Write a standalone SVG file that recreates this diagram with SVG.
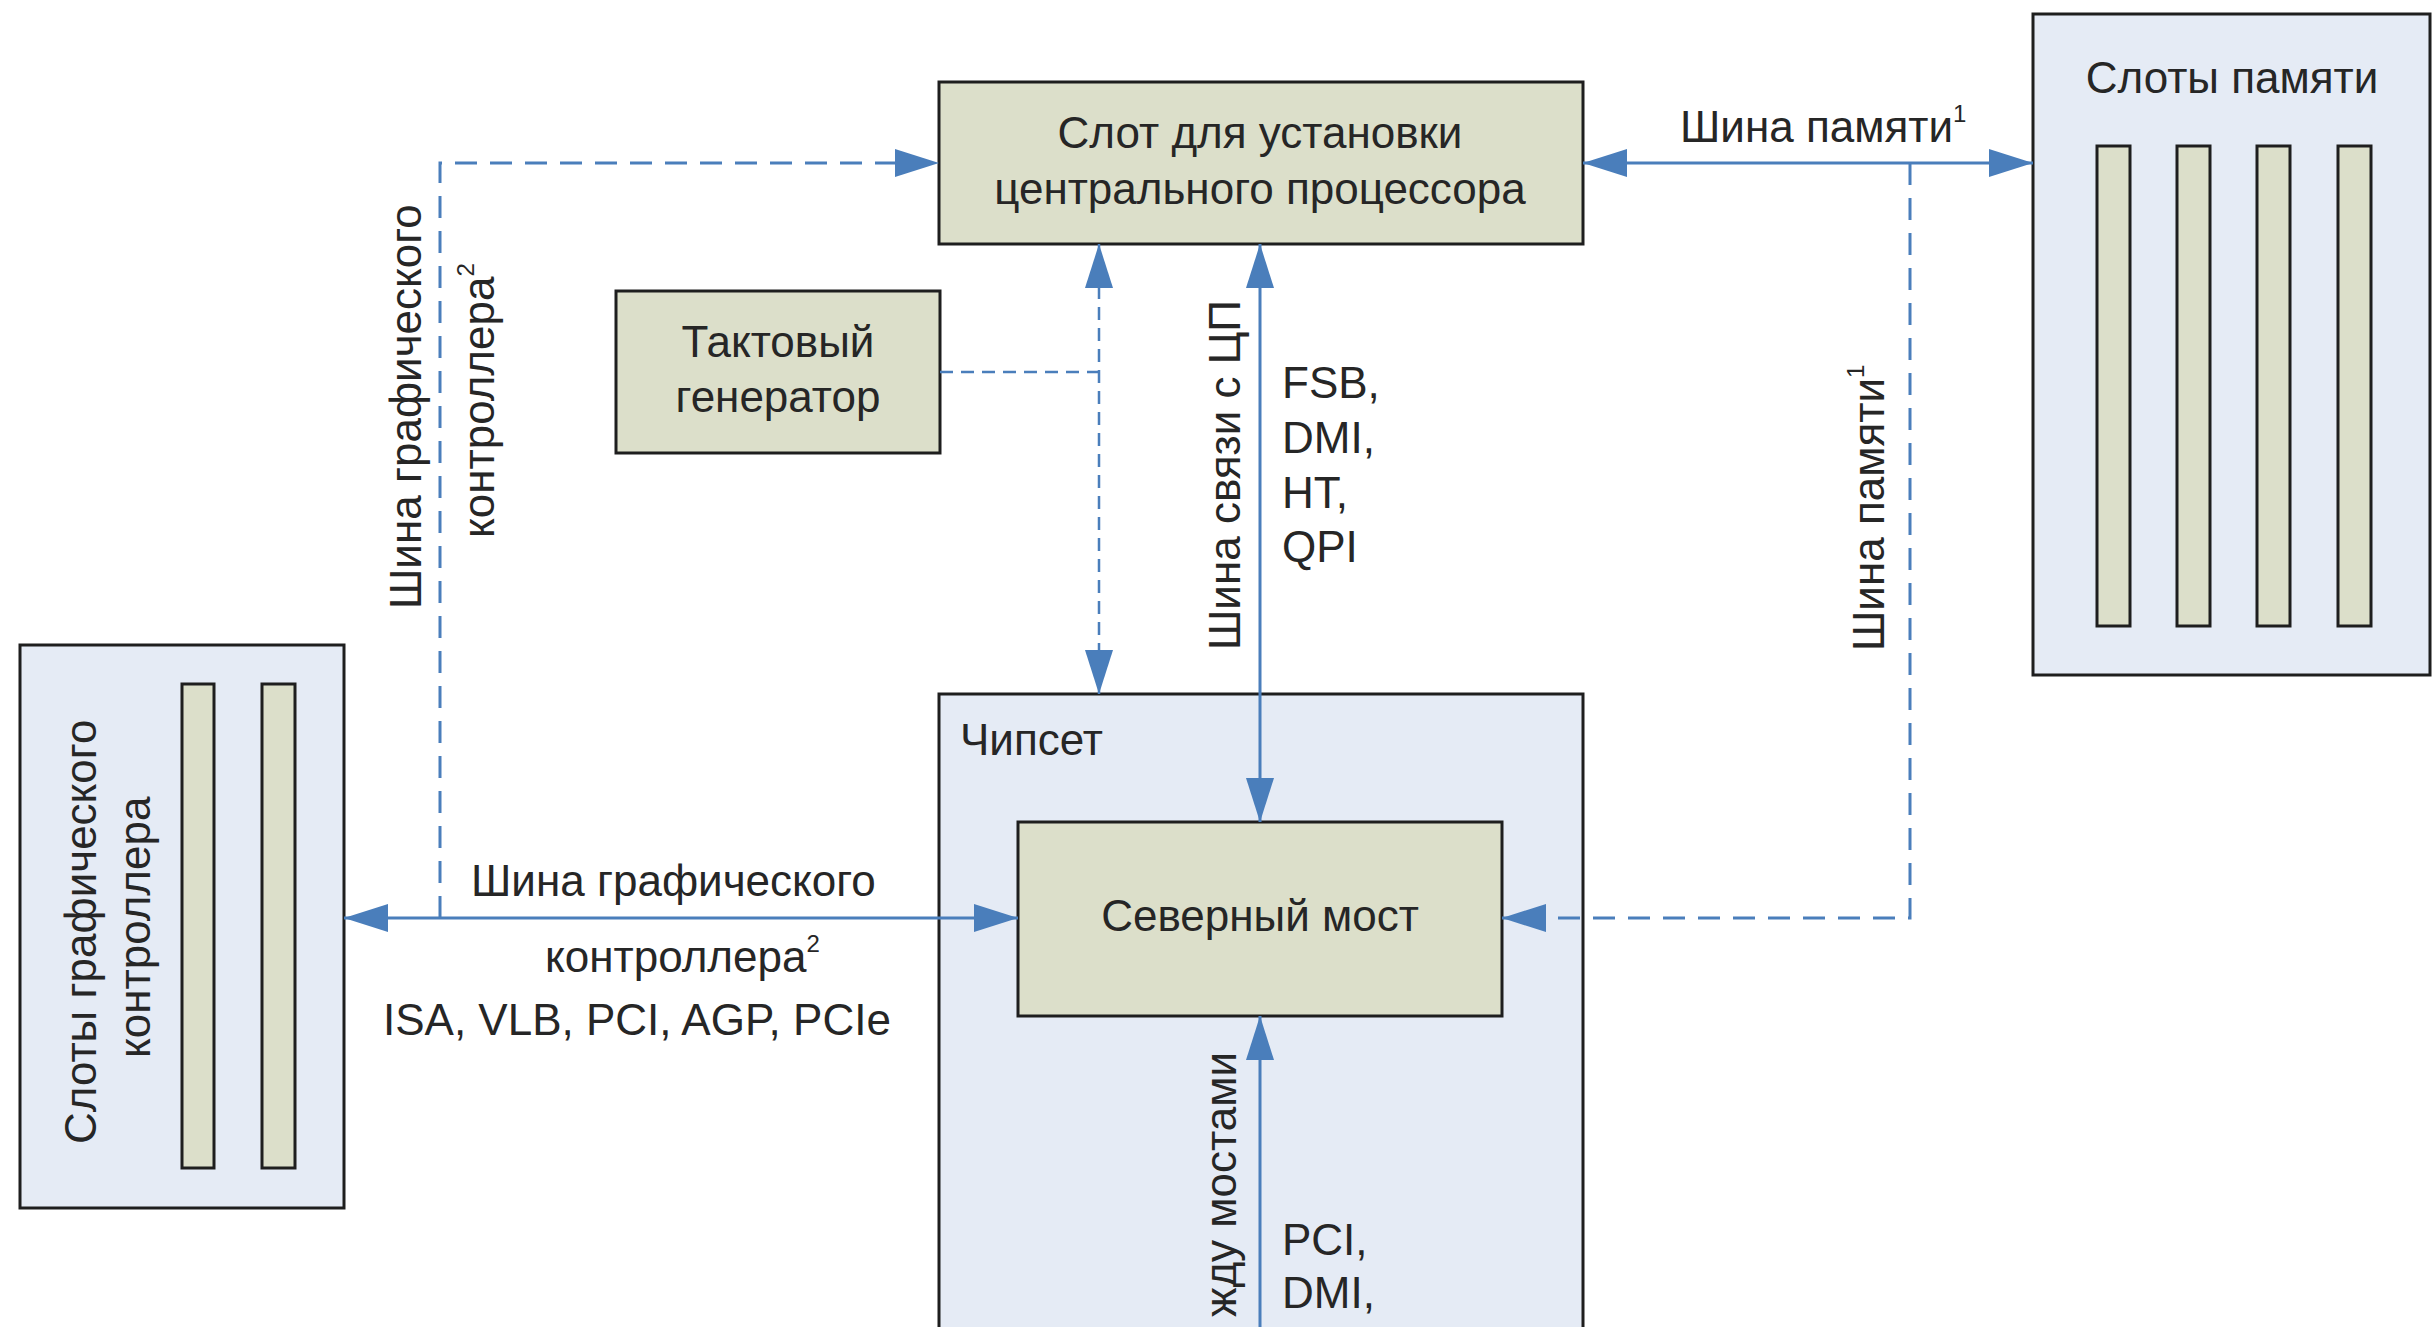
<svg xmlns="http://www.w3.org/2000/svg" width="2433" height="1327" viewBox="0 0 2433 1327">
<style>
.box{fill:#dcdfca;stroke:#1e1e1e;stroke-width:3}
.panel{fill:#e5ebf5;stroke:#1e1e1e;stroke-width:3}
.bus{fill:none;stroke:#4a7ebb;stroke-width:3}
.dash{fill:none;stroke:#4a7ebb;stroke-width:3;stroke-dasharray:22 13}
.dash2{fill:none;stroke:#4a7ebb;stroke-width:2.5;stroke-dasharray:13 8}
text{font-family:"Liberation Sans",Arial,sans-serif;font-size:44px;fill:#262626}
.c{text-anchor:middle}
.sup{font-size:24px}
</style>
<defs>
<marker id="arr" viewBox="0 0 44 28" refX="44" refY="14" markerWidth="44" markerHeight="28" markerUnits="userSpaceOnUse" orient="auto-start-reverse">
<path d="M0,0 L44,14 L0,28 z" fill="#4a7ebb"/>
</marker>
</defs>
<rect width="2433" height="1327" fill="#ffffff"/>

<g id="chipset">
<rect class="panel" x="939" y="694" width="644" height="700"/>
<text x="960" y="755">Чипсет</text>
</g>

<g id="cpu">
<rect class="box" x="939" y="82" width="644" height="162"/>
<text class="c" x="1260" y="148">Слот для установки</text>
<text class="c" x="1260" y="204">центрального процессора</text>
</g>

<g id="memory">
<rect class="panel" x="2033" y="14" width="397" height="661"/>
<text class="c" x="2232" y="93">Слоты памяти</text>
<rect class="box" x="2097" y="146" width="33" height="480"/>
<rect class="box" x="2177" y="146" width="33" height="480"/>
<rect class="box" x="2257" y="146" width="33" height="480"/>
<rect class="box" x="2338" y="146" width="33" height="480"/>
</g>

<g id="clock">
<rect class="box" x="616" y="291" width="324" height="162"/>
<text class="c" x="778" y="357">Тактовый</text>
<text class="c" x="778" y="412">генератор</text>
</g>

<g id="northbridge">
<rect class="box" x="1018" y="822" width="484" height="194"/>
<text class="c" x="1260" y="931">Северный мост</text>
</g>

<g id="gfx">
<rect class="panel" x="20" y="645" width="324" height="563"/>
<text transform="translate(96,1144) rotate(-90)">Слоты графического</text>
<text transform="translate(150,1058) rotate(-90)">контроллера</text>
<rect class="box" x="182" y="684" width="32" height="484"/>
<rect class="box" x="262" y="684" width="33" height="484"/>
</g>

<g id="connectors">
<path class="bus" d="M1583,163 H2033" marker-start="url(#arr)" marker-end="url(#arr)"/>
<path class="bus" d="M1260,244 V822" marker-start="url(#arr)" marker-end="url(#arr)"/>
<path class="bus" d="M344,918 H1018" marker-start="url(#arr)" marker-end="url(#arr)"/>
<path class="bus" d="M1260,1327 V1016" marker-end="url(#arr)"/>
<path class="dash" d="M440,918 V163 H939" marker-end="url(#arr)"/>
<path class="dash" d="M1910,163 V918 H1502" marker-end="url(#arr)"/>
<path class="dash2" d="M940,372 H1099"/>
<path class="dash2" d="M1099,244 V694" marker-start="url(#arr)" marker-end="url(#arr)"/>
</g>

<g id="labels">
<text x="1680" y="142">Шина памяти<tspan class="sup" dy="-20">1</tspan></text>
<text transform="translate(1884,651) rotate(-90)">Шина памяти<tspan class="sup" dy="-20">1</tspan></text>
<text transform="translate(1240,650) rotate(-90)">Шина связи с ЦП</text>
<text x="1282" y="398">FSB,</text>
<text x="1282" y="453">DMI,</text>
<text x="1282" y="508">HT,</text>
<text x="1282" y="562">QPI</text>
<text transform="translate(421,609) rotate(-90)">Шина графического</text>
<text transform="translate(494,538) rotate(-90)">контроллера<tspan class="sup" dy="-20">2</tspan></text>
<text x="471" y="896">Шина графического</text>
<text x="545" y="972">контроллера<tspan class="sup" dy="-20">2</tspan></text>
<text x="383" y="1035">ISA, VLB, PCI, AGP, PCIe</text>
<text transform="translate(1236,1052) rotate(-90)" text-anchor="end" font-size="42">жду мостами</text>
<text x="1282" y="1255">PCI,</text>
<text x="1282" y="1308">DMI,</text>
</g>
</svg>
